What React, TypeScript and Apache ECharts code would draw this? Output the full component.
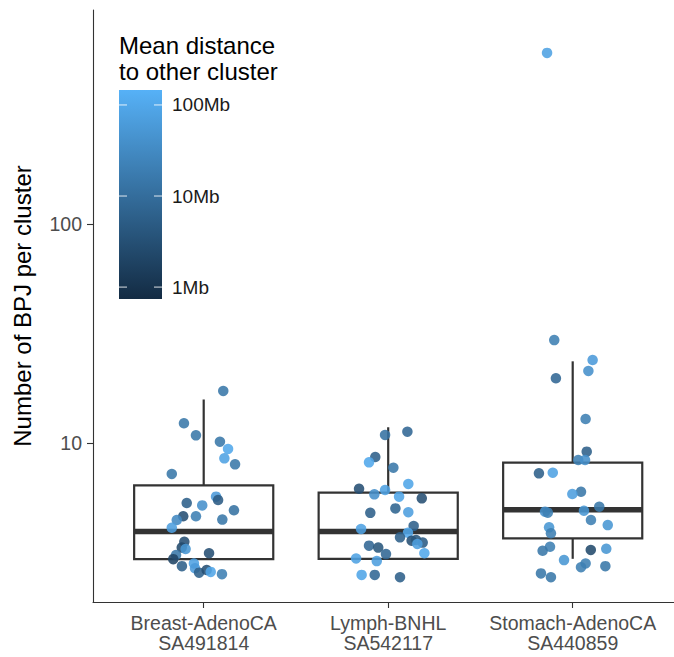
import React, { useEffect, useRef } from "react";
import * as echarts from "echarts";

const categories = ["Breast-AdenoCA\nSA491814", "Lymph-BNHL\nSA542117", "Stomach-AdenoCA\nSA440859"];
const categoryPos = [1, 2, 3];
const yTickValues = [10, 100];
const legendTickValues = [1, 10, 100];
const legendTickLabels = ["1Mb", "10Mb", "100Mb"];
const legendTitle = "Mean distance\nto other cluster";
const yTitle = "Number of BPJ per cluster";
const colorLow = "#132B43";
const colorHigh = "#56B1F7";
const distMin = 0.74;
const distMax = 146;

// [lower whisker, Q1, median, Q3, upper whisker]
const boxStats = [
  [2.95, 2.95, 3.94, 6.41, 15.8],
  [2.96, 2.96, 3.94, 5.93, 11.8],
  [2.96, 3.67, 4.96, 8.13, 23.6],
];

const breastX = [1.106, 0.893, 0.958, 1.088, 1.132, 1.112, 1.17, 0.827, 0.908, 0.992, 1.067, 1.078, 1.164, 0.889, 0.958, 1.101, 0.854, 0.827, 0.895, 0.881, 0.902, 1.029, 0.85, 0.835, 0.882, 0.947, 0.953, 0.975, 1.016, 1.038, 1.099];
const breastY = [17.28, 12.3, 10.84, 10.14, 9.39, 8.51, 7.99, 7.22, 5.32, 5.19, 5.69, 5.49, 4.93, 4.63, 4.63, 4.47, 4.45, 4.1, 3.54, 3.33, 3.28, 3.14, 3.08, 2.95, 2.74, 2.82, 2.68, 2.56, 2.63, 2.58, 2.52];
const breastDist = [15, 15, 15, 15, 100, 80, 15, 15, 6, 40, 60, 5, 12, 3, 20, 15, 30, 70, 3, 2.5, 50, 3, 15, 2, 6, 80, 60, 6, 3, 90, 20];

const lymphX = [2.104, 1.983, 1.93, 1.896, 2.028, 2.109, 1.842, 1.983, 1.925, 2.059, 2.182, 1.903, 2.039, 2.109, 1.853, 2.138, 2.107, 2.064, 2.127, 2.151, 2.187, 2.158, 1.896, 1.946, 1.988, 2.196, 1.826, 1.938, 1.856, 1.927, 2.064];
const lymphY = [11.26, 10.88, 8.63, 8.16, 7.71, 6.5, 6.18, 6.1, 5.83, 5.69, 5.59, 4.8, 5.03, 4.83, 4.05, 4.18, 3.89, 3.71, 3.58, 3.61, 3.51, 3.46, 3.4, 3.33, 3.11, 3.14, 2.97, 2.89, 2.5, 2.5, 2.44];
const lymphDist = [8, 12, 6, 100, 15, 90, 3, 80, 40, 90, 3, 6, 7, 70, 80, 6, 100, 6, 3, 4, 5, 70, 8, 4, 8, 100, 80, 70, 90, 8, 6];

const stomachX = [2.861, 2.9, 3.108, 3.085, 2.909, 3.07, 3.076, 3.03, 3.067, 2.817, 2.892, 3.045, 2.998, 3.144, 2.85, 2.865, 3.061, 3.099, 3.19, 2.872, 2.882, 2.877, 2.837, 3.098, 3.182, 2.953, 3.07, 3.045, 3.177, 2.828, 2.882];
const stomachY = [604, 29.5, 23.93, 21.32, 19.74, 12.87, 9.13, 8.36, 8.36, 7.27, 7.32, 5.99, 5.85, 5.12, 4.86, 4.81, 4.91, 4.45, 4.22, 4.12, 3.87, 3.36, 3.22, 3.25, 3.29, 2.92, 2.82, 2.71, 2.74, 2.54, 2.44];
const stomachDist = [80, 20, 60, 40, 8, 20, 6, 20, 40, 6, 80, 15, 70, 15, 40, 20, 50, 20, 50, 50, 20, 20, 15, 2.5, 50, 50, 20, 20, 15, 15, 15];

const lg = (v: number) => Math.log10(v);

export default function App() {
  const ref = useRef<HTMLDivElement>(null);
  useEffect(() => {
    if (!ref.current) return;
    const chart = echarts.init(ref.current, null, { renderer: "svg" });
    const font = "'Liberation Sans', Arial, Helvetica, sans-serif";

    const points: number[][] = [];
    const add = (xs: number[], ys: number[], ds: number[]) => {
      xs.forEach((x, i) => points.push([x, lg(ys[i]), lg(ds[i])]));
    };
    add(breastX, breastY, breastDist);
    add(lymphX, lymphY, lymphDist);
    add(stomachX, stomachY, stomachDist);

    const boxData = boxStats.map((s, i) => [categoryPos[i], ...s.map(lg)]);

    // legend colour bar geometry
    const barX = 119, barY = 90, barW = 43, barH = 209;
    const lMin = lg(distMin), lMax = lg(distMax);
    const legY = (v: number) => barY + barH - ((lg(v) - lMin) / (lMax - lMin)) * barH;
    const legendGraphics: any[] = [
      {
        type: "text",
        left: barX,
        top: 32,
        style: { text: legendTitle, font: `24px ${font}`, fill: "#000", lineHeight: 26 },
      },
      {
        type: "rect",
        shape: { x: barX, y: barY, width: barW, height: barH },
        style: {
          fill: new echarts.graphic.LinearGradient(0, 0, 0, 1, [
            { offset: 0, color: colorHigh },
            { offset: 1, color: colorLow },
          ]),
        },
      },
    ];
    legendTickValues.forEach((v, i) => {
      const y = legY(v);
      legendGraphics.push(
        { type: "line", shape: { x1: barX, y1: y, x2: barX + 8, y2: y }, style: { stroke: "rgba(255,255,255,0.85)", lineWidth: 1 } },
        { type: "line", shape: { x1: barX + barW - 8, y1: y, x2: barX + barW, y2: y }, style: { stroke: "rgba(255,255,255,0.85)", lineWidth: 1 } },
        { type: "text", x: barX + barW + 10, y, style: { text: legendTickLabels[i], font: `19px ${font}`, fill: "#1A1A1A", verticalAlign: "middle", align: "left" } }
      );
    });

    chart.setOption({
      animation: false,
      backgroundColor: "#fff",
      textStyle: { fontFamily: font },
      grid: { left: 93, top: 10, width: 590.4, height: 592, containLabel: false, outerBoundsMode: "none" },
      xAxis: {
        type: "value",
        min: 0.4,
        max: 3.6,
        splitLine: { show: false },
        axisLine: { show: true, lineStyle: { color: "#333", width: 1.1 } },
        axisTick: { show: true, customValues: categoryPos, length: 6, lineStyle: { color: "#333", width: 1.1 } },
        axisLabel: {
          customValues: categoryPos,
          formatter: (v: number) => categories[Math.round(v) - 1] ?? "",
          fontSize: 19.5,
          lineHeight: 20,
          color: "#4D4D4D",
          margin: 11,
        },
      },
      yAxis: {
        type: "value",
        min: lg(1.88),
        max: lg(948),
        splitLine: { show: false },
        axisLine: { show: true, lineStyle: { color: "#333", width: 1.1 } },
        axisTick: { show: true, customValues: yTickValues.map(lg), length: 6, lineStyle: { color: "#333", width: 1.1 } },
        axisLabel: {
          customValues: yTickValues.map(lg),
          formatter: (v: number) => String(Math.round(Math.pow(10, v))),
          fontSize: 19.5,
          color: "#4D4D4D",
          margin: 11,
        },
        name: yTitle,
        nameLocation: "middle",
        nameGap: 59,
        nameTextStyle: { fontSize: 24, color: "#000" },
      },
      visualMap: {
        show: false,
        type: "continuous",
        seriesIndex: 1,
        dimension: 2,
        min: lMin,
        max: lMax,
        inRange: { color: [colorLow, colorHigh] },
      },
      series: [
        {
          type: "custom",
          data: boxData,
          z: 1,
          renderItem: (params: any, api: any) => {
            const x = api.value(0);
            const hw = 0.377;
            const tl = api.coord([x - hw, api.value(4)]);
            const br = api.coord([x + hw, api.value(2)]);
            const medL = api.coord([x - hw, api.value(3)]);
            const medR = api.coord([x + hw, api.value(3)]);
            const lw = api.coord([x, api.value(1)]);
            const q1 = api.coord([x, api.value(2)]);
            const q3 = api.coord([x, api.value(4)]);
            const uw = api.coord([x, api.value(5)]);
            const stroke = "#333333";
            return {
              type: "group",
              children: [
                { type: "line", shape: { x1: uw[0], y1: uw[1], x2: q3[0], y2: q3[1] }, style: { stroke, lineWidth: 2.2 } },
                { type: "line", shape: { x1: q1[0], y1: q1[1], x2: lw[0], y2: lw[1] }, style: { stroke, lineWidth: 2.2 } },
                { type: "rect", shape: { x: tl[0], y: tl[1], width: br[0] - tl[0], height: br[1] - tl[1] }, style: { fill: "#fff", stroke, lineWidth: 2.2 } },
                { type: "line", shape: { x1: medL[0], y1: medL[1], x2: medR[0], y2: medR[1] }, style: { stroke, lineWidth: 5.5 } },
              ],
            };
          },
        },
        {
          type: "scatter",
          data: points,
          z: 3,
          symbolSize: 10.5,
          itemStyle: { opacity: 0.88 },
        },
      ],
      graphic: legendGraphics,
    });
    return () => chart.dispose();
  }, []);
  return (
    <div
      ref={ref}
      style={{ position: "fixed", left: 0, top: 0, width: 674, height: 657, background: "#fff" }}
    />
  );
}
